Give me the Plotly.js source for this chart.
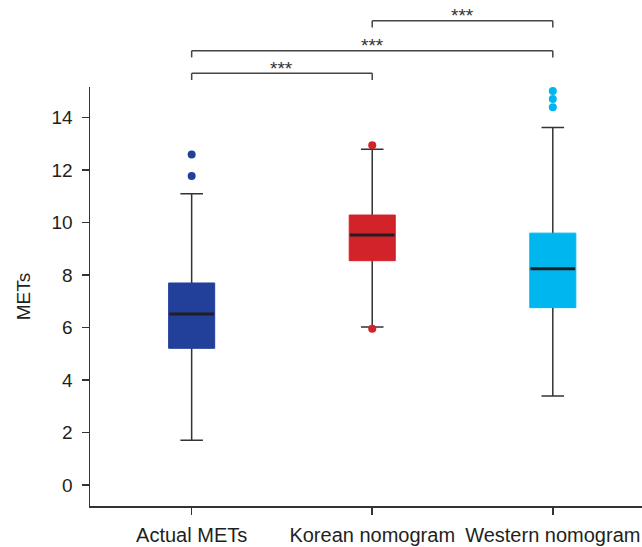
<!DOCTYPE html>
<html>
<head>
<meta charset="utf-8">
<script src="https://cdn.plot.ly/plotly-3.0.1.min.js"></script>
<style>html,body{margin:0;padding:0;background:#fff;}#chart{width:642px;height:547px;}</style>
</head>
<body>
<div id="chart"></div>
<script>
// Data
const categories = ["Actual METs", "Korean nomogram", "Western nomogram"];
const lowerWhisker = [1.71, 6.02, 3.39];
const q1Values = [5.21, 8.55, 6.76];
const medianValues = [6.52, 9.53, 8.24];
const q3Values = [7.70, 10.29, 9.60];
const upperWhisker = [11.10, 12.80, 13.63];
const outlierGroups = [
  [11.78, 12.60],
  [5.96, 12.95],
  [14.40, 14.71, 15.02]
];
const boxColors = ["#22409a", "#d2232a", "#00b6ef"];
const comparisons = [[1, 2], [0, 2], [0, 1]];
const comparisonLabels = ["***", "***", "***"];

const FONT = "'Liberation Sans', Arial, sans-serif";
const DARK = "#333333";
const BOXW = 0.255;

const traces = [];

// whiskers (dark), drawn first
traces.push({
  type: "box", x: categories,
  q1: medianValues, median: medianValues, q3: medianValues,
  lowerfence: lowerWhisker, upperfence: upperWhisker,
  width: BOXW, whiskerwidth: 0.49,
  line: {color: DARK, width: 1.5},
  fillcolor: "rgba(0,0,0,0)",
  boxpoints: false, hoverinfo: "skip", showlegend: false
});

// coloured boxes
categories.forEach((c, i) => {
  traces.push({
    type: "box", x: [c],
    q1: [q1Values[i]], median: [medianValues[i]], q3: [q3Values[i]],
    lowerfence: [q1Values[i]], upperfence: [q3Values[i]],
    width: BOXW, whiskerwidth: 0,
    line: {color: boxColors[i], width: 1},
    fillcolor: boxColors[i],
    boxpoints: false, hoverinfo: "skip", showlegend: false
  });
});

// median lines
traces.push({
  type: "box", x: categories,
  q1: medianValues, median: medianValues, q3: medianValues,
  lowerfence: medianValues, upperfence: medianValues,
  width: BOXW * 0.97, whiskerwidth: 0,
  line: {color: "#231f20", width: 3},
  fillcolor: "rgba(0,0,0,0)",
  boxpoints: false, hoverinfo: "skip", showlegend: false
});

// outliers
const ox = [], oy = [], oc = [];
outlierGroups.forEach((g, i) => g.forEach(v => { ox.push(categories[i]); oy.push(v); oc.push(boxColors[i]); }));
traces.push({
  type: "scatter", mode: "markers", x: ox, y: oy,
  marker: {color: oc, size: 8, line: {width: 0}},
  hoverinfo: "skip", showlegend: false, cliponaxis: false
});

// significance brackets
const bracketTop = [1.1582, 1.0866, 1.0327];
const bracketLeg = 0.016;
const labelY = [1.1700, 1.0985, 1.0445];
const shapes = [], annotations = [];
comparisons.forEach((p, k) => {
  const a = categories[p[0]], b = categories[p[1]];
  const yt = bracketTop[k], yb = yt - bracketLeg;
  const ln = {color: "#444444", width: 1.5};
  shapes.push({type: "line", xref: "x", yref: "paper", x0: a, x1: b, y0: yt, y1: yt, line: ln});
  shapes.push({type: "line", xref: "x", yref: "paper", x0: a, x1: a, y0: yt, y1: yb, line: ln});
  shapes.push({type: "line", xref: "x", yref: "paper", x0: b, x1: b, y0: yt, y1: yb, line: ln});
  annotations.push({
    xref: "x", yref: "paper", x: (p[0] + p[1]) / 2, y: labelY[k],
    text: comparisonLabels[k], showarrow: false, yanchor: "middle",
    font: {family: FONT, size: 19, color: "#333333"}
  });
});

const layout = {
  width: 642, height: 547,
  margin: {l: 90, r: 0, t: 87, b: 41},
  paper_bgcolor: "#ffffff", plot_bgcolor: "#ffffff",
  showlegend: false, boxmode: "overlay",
  font: {family: FONT, size: 19, color: "#231f20"},
  xaxis: {
    type: "category", categoryarray: categories,
    range: [-0.563, 2.494], fixedrange: true,
    showline: true, linecolor: DARK, linewidth: 1.5,
    ticks: "outside", ticklen: 7, tickwidth: 1.5, tickcolor: DARK,
    ticklabelstandoff: 3,
    showgrid: false, zeroline: false,
    tickfont: {family: FONT, size: 20, color: "#231f20"}
  },
  yaxis: {
    range: [-0.80, 15.17], fixedrange: true,
    tickvals: [0, 2, 4, 6, 8, 10, 12, 14],
    showline: true, linecolor: DARK, linewidth: 1.5,
    ticks: "outside", ticklen: 7, tickwidth: 1.5, tickcolor: DARK,
    ticklabelstandoff: 5,
    showgrid: false, zeroline: false,
    tickfont: {family: FONT, size: 19, color: "#231f20"},
    title: {text: "METs", font: {family: FONT, size: 19, color: "#231f20"}, standoff: 16}
  },
  shapes: shapes,
  annotations: annotations
};

Plotly.newPlot("chart", traces, layout, {displayModeBar: false, staticPlot: true});
</script>
</body>
</html>
